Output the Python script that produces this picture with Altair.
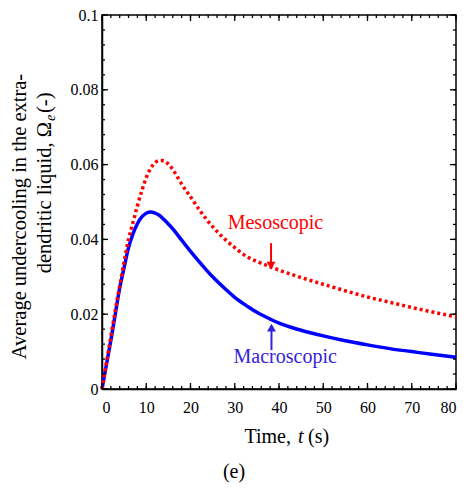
import altair as alt
import pandas as pd

# ---- data ----
t_macro = [0, 1, 2, 3, 4, 5, 6, 7, 8, 9, 10, 11, 12, 13, 14, 15, 16, 18, 20, 22, 25, 28, 30, 33, 35, 38, 40,
           45, 50, 55, 60, 65, 70, 75, 80]
omega_macro = [0, 0.0065, 0.013, 0.020, 0.027, 0.0325, 0.0378, 0.0415, 0.0442, 0.0460, 0.0470, 0.0473, 0.0470,
               0.0464, 0.0453, 0.0441, 0.0428, 0.0398, 0.0368, 0.0340, 0.0300, 0.0266, 0.0245, 0.0220, 0.0205,
               0.0187, 0.0176, 0.0157, 0.0142, 0.0129, 0.0118, 0.0108, 0.0100, 0.0092, 0.0085]
t_meso = [0, 1, 2, 3, 4, 5, 6, 7, 8, 9, 10, 11, 12, 13, 14, 15, 16, 17, 18, 20, 22, 25, 28, 30, 33, 35, 38, 40,
          45, 50, 54, 60, 65, 70, 75, 80]
omega_meso = [0, 0.007, 0.014, 0.021, 0.0275, 0.034, 0.040, 0.0445, 0.049, 0.053, 0.0565, 0.0590, 0.0605, 0.0611,
              0.0610, 0.0601, 0.0587, 0.0568, 0.0548, 0.0514, 0.0479, 0.0434, 0.0398, 0.0378, 0.0352, 0.0341,
              0.0327, 0.0318, 0.0298, 0.0280, 0.0266, 0.0246, 0.0232, 0.0218, 0.0205, 0.0193]

x_major = [0, 10, 20, 30, 40, 50, 60, 70, 80]
x_minor = [v for v in range(0, 81, 2)]
y_major = [0, 0.02, 0.04, 0.06, 0.08, 0.1]
y_minor = [round(i * 0.004, 3) for i in range(0, 26)]

labels = ["Mesoscopic", "Macroscopic"]
label_t = [39.2, 41.4]
label_y = [0.0443, 0.0086]
label_color = ["#ff0000", "#3322dd"]
arrow_t = [38.2, 38.3]
arrow_start = [0.0390, 0.0104]
arrow_end = [0.0330, 0.0164]
arrow_shape = ["triangle-down", "triangle-up"]

W, H = 354, 374
FONT = "Liberation Serif"

macro = pd.DataFrame({"t": t_macro, "v": omega_macro})
meso = pd.DataFrame({"t": t_meso, "v": omega_meso})

xs = alt.Scale(domain=[0, 80], nice=False, zero=False)
ys = alt.Scale(domain=[0, 0.1], nice=False)

x_axis = alt.Axis(values=x_major, tickSize=0, labelPadding=10, title=None, grid=False,
                  labelFont=FONT, labelFontSize=16, labelColor="black", domainColor="black", domainWidth=1.5)
y_axis = alt.Axis(values=y_major, tickSize=0, format="~g", labelPadding=4, title=None, grid=False,
                  labelFont=FONT, labelFontSize=16, labelColor="black", domainColor="black", domainWidth=1.5)

def X(f):
    return alt.X(f, type="quantitative", scale=xs, axis=x_axis)

def Y(f):
    return alt.Y(f, type="quantitative", scale=ys, axis=y_axis)

line_macro = alt.Chart(macro).mark_line(color="#0000ff", strokeWidth=3.5, interpolate="monotone").encode(
    x=X("t"), y=Y("v"))
line_meso = alt.Chart(meso).mark_line(color="#ff0000", strokeWidth=3.5, strokeDash=[3, 3],
                                      interpolate="monotone").encode(x=X("t"), y=Y("v"))

xmaj = pd.DataFrame({"t": x_major})
xmin = pd.DataFrame({"t": x_minor})
ymaj = pd.DataFrame({"v": y_major})
ymin = pd.DataFrame({"v": y_minor})

def xticks(df, L):
    bot = alt.Chart(df).mark_rule(color="black", strokeWidth=1.3).encode(
        x=X("t"), y=alt.value(H), y2=alt.value(H - L))
    top = alt.Chart(df).mark_rule(color="black", strokeWidth=1.3).encode(
        x=X("t"), y=alt.value(0), y2=alt.value(L))
    return [bot, top]

def yticks(df, L):
    lft = alt.Chart(df).mark_rule(color="black", strokeWidth=1.3).encode(
        y=Y("v"), x=alt.value(0), x2=alt.value(L))
    rgt = alt.Chart(df).mark_rule(color="black", strokeWidth=1.3).encode(
        y=Y("v"), x=alt.value(W), x2=alt.value(W - L))
    return [lft, rgt]

ann = pd.DataFrame({"label": labels, "t": label_t, "v": label_y, "c": label_color,
                    "at": arrow_t, "a0": arrow_start, "a1": arrow_end, "shape": arrow_shape})

texts = alt.Chart(ann).mark_text(font=FONT, fontSize=20, baseline="middle", align="center").encode(
    x=X("t"), y=Y("v"), text="label:N", color=alt.Color("c:N", scale=None))
shafts = alt.Chart(ann).mark_rule(strokeWidth=2).encode(
    x=X("at"), y=Y("a0"), y2="a1:Q", color=alt.Color("c:N", scale=None))
heads = alt.Chart(ann).mark_point(filled=True, size=80, opacity=1).encode(
    x=X("at"), y=Y("a1"), shape=alt.Shape("shape:N", scale=None), color=alt.Color("c:N", scale=None))

# ---- titles as text pieces (to allow italic symbols) ----
def txt(s, x, y, size=20, style="normal", align="left", angle=0, baseline="middle", font=FONT):
    return alt.Chart(pd.DataFrame({"s": [s]})).mark_text(
        font=font, fontSize=size, fontStyle=style, align=align, baseline=baseline,
        angle=angle, color="black").encode(x=alt.value(x), y=alt.value(y), text="s:N")

xtitle = [
    txt("Time,", 189, 422, align="right"),
    txt("t", 196, 422, style="italic"),
    txt("(s)", 206, 422),
]
ytitle = [
    txt("Average undercooling in the extra-", -82, 201.5, size=20.5, align="center", angle=270),
    txt("dendritic liquid, Ω", -57, 107, size=20.5, align="right", angle=270),
    txt("e", -51, 106, size=14, style="italic", align="left", angle=270),
    txt("(-)", -57, 98, size=20.5, align="left", angle=270),
]
caption = txt("(e)", 132, 457, align="center")

chart = alt.layer(
    line_macro, line_meso,
    *xticks(xmaj, 6), *xticks(xmin, 3), *yticks(ymaj, 6), *yticks(ymin, 3),
    shafts, heads, texts, caption, *xtitle, *ytitle,
).properties(
    width=W, height=H,
    autosize=alt.AutoSizeParams(type="none"),
    padding={"left": 102, "top": 15, "right": 10, "bottom": 103},
    background="white",
).configure_view(stroke="black", strokeWidth=1.5)

chart.save("out.html", embed_options={"renderer": "svg", "actions": False})
